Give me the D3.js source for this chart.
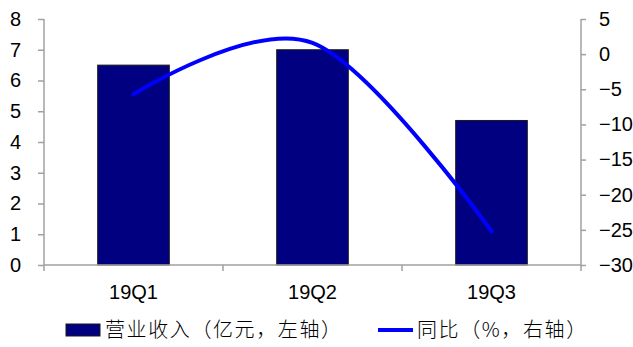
<!DOCTYPE html>
<html>
<head>
<meta charset="utf-8">
<script src="https://cdn.jsdelivr.net/npm/d3@7"></script>
<style>
  html, body { margin: 0; padding: 0; background: #fff; }
  svg { display: block; }
  .num { font-family: "Liberation Sans", Arial, sans-serif; font-size: 20px; fill: #000; }
  .cjk { font-family: "Noto Sans CJK SC", sans-serif; font-size: 20px; font-weight: 300; letter-spacing: 1.6px; fill: #000; }
</style>
</head>
<body>
<svg id="chart" width="633" height="347"></svg>
<script>
// Quarterly revenue (bars, left axis) and YoY growth (smoothed line, right axis)
const categories = ["19Q1", "19Q2", "19Q3"];
const revenue = [6.5, 7.0, 4.7];          // 亿元
const yoy = [-5.7, 1.6, -25.2];           // %
const leftTicks = [0, 1, 2, 3, 4, 5, 6, 7, 8];
const rightTicks = [5, 0, -5, -10, -15, -20, -25, -30];
const legendLabels = ["营业收入（亿元，左轴）", "同比（%，右轴）"];

const svg = d3.select("#chart");
const plot = { left: 44, right: 581, top: 19, bottom: 265 };
const axisColor = "#a0a0a0";

const x = d3.scaleBand()
  .domain(categories)
  .range([plot.left, plot.right])
  .paddingInner(0.6)
  .paddingOuter(0.3);
const xCat = d3.scaleBand().domain(categories).range([plot.left, plot.right]).padding(0);

const yLeft = d3.scaleLinear().domain([0, 8]).range([plot.bottom, plot.top]);
const yRight = d3.scaleLinear().domain([-30, 5]).range([plot.bottom, plot.top]);

// Bars
svg.append("g")
  .selectAll("rect")
  .data(categories)
  .join("rect")
  .attr("x", d => x(d))
  .attr("width", x.bandwidth())
  .attr("y", (d, i) => yLeft(revenue[i]))
  .attr("height", (d, i) => yLeft(0) - yLeft(revenue[i]))
  .attr("fill", "#000080")
  .attr("stroke", "#1a1a1a")
  .attr("stroke-width", 1);

// Left axis
const gLeft = svg.append("g")
  .attr("transform", `translate(${plot.left},0)`)
  .call(d3.axisLeft(yLeft).tickValues(leftTicks).tickSize(6).tickPadding(17).tickFormat(d3.format("d")));
gLeft.select(".domain").attr("stroke", axisColor).attr("stroke-width", 1.5).attr("d", `M0,${plot.top}V${plot.bottom}`);
gLeft.selectAll(".tick line").attr("stroke", axisColor).attr("stroke-width", 1.5);
gLeft.selectAll(".tick text").attr("class", "num").attr("font-size", null).attr("font-family", null);

// Right axis
const gRight = svg.append("g")
  .attr("transform", `translate(${plot.right},0)`)
  .call(d3.axisRight(yRight).tickValues(rightTicks).tickSize(5).tickPadding(13).tickFormat(d3.format("d")));
gRight.select(".domain").attr("stroke", axisColor).attr("stroke-width", 1.5).attr("d", `M0,${plot.top}V${plot.bottom}`);
gRight.selectAll(".tick line").attr("stroke", axisColor).attr("stroke-width", 1.5);
gRight.selectAll(".tick text").attr("class", "num").attr("font-size", null).attr("font-family", null);

// Bottom axis: line, category boundary ticks, centred labels
const gBottom = svg.append("g").attr("transform", `translate(0,${plot.bottom})`);
gBottom.append("line")
  .attr("x1", plot.left).attr("x2", plot.right)
  .attr("stroke", axisColor).attr("stroke-width", 1.5);
const boundaries = categories.map(c => xCat(c)).concat([xCat(categories[categories.length - 1]) + xCat.bandwidth()]);
gBottom.selectAll("line.tick")
  .data(boundaries)
  .join("line")
  .attr("class", "tick")
  .attr("x1", d => d).attr("x2", d => d)
  .attr("y1", 0).attr("y2", 6)
  .attr("stroke", axisColor).attr("stroke-width", 1.5);
gBottom.selectAll("text")
  .data(categories)
  .join("text")
  .attr("class", "num")
  .attr("x", d => xCat(d) + xCat.bandwidth() / 2)
  .attr("y", 34)
  .attr("text-anchor", "middle")
  .text(d => d);

// Smoothed YoY line
const line = d3.line()
  .x((d, i) => xCat(categories[i]) + xCat.bandwidth() / 2)
  .y(d => yRight(d))
  .curve(d3.curveCardinal.tension(0));
svg.append("path")
  .datum(yoy)
  .attr("d", line)
  .attr("fill", "none")
  .attr("stroke", "#0000ff")
  .attr("stroke-width", 4)
  .attr("stroke-linecap", "round");

// Legend
const legend = svg.append("g").attr("transform", "translate(0,330)");
legend.append("rect")
  .attr("x", 66).attr("y", -6).attr("width", 34).attr("height", 12)
  .attr("fill", "#000080").attr("stroke", "#1a1a1a").attr("stroke-width", 1);
legend.append("text")
  .attr("class", "cjk")
  .attr("x", 105).attr("y", 0).attr("dy", "0.36em")
  .text(legendLabels[0]);
legend.append("line")
  .attr("x1", 378).attr("x2", 413).attr("y1", 0).attr("y2", 0)
  .attr("stroke", "#0000ff").attr("stroke-width", 4);
legend.append("text")
  .attr("class", "cjk")
  .attr("x", 417).attr("y", 0).attr("dy", "0.36em")
  .text(legendLabels[1]);
</script>
</body>
</html>
